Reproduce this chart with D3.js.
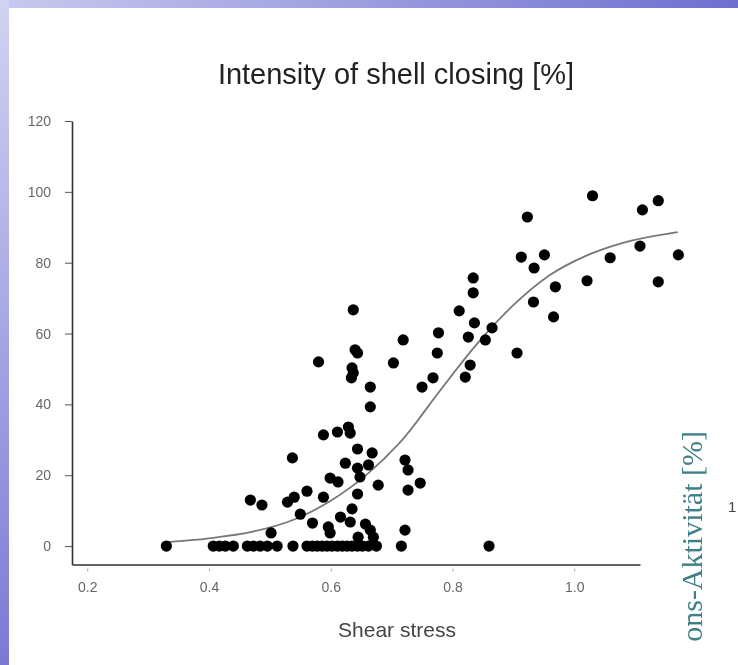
<!DOCTYPE html>
<html>
<head>
<meta charset="utf-8">
<script src="https://cdn.jsdelivr.net/npm/d3@7"></script>
<style>
  html, body { margin: 0; padding: 0; background: #fff; }
  svg { display: block; }
</style>
</head>
<body>
<div id="chart"></div>
<script>
// Shear stress vs. intensity of shell closing, with fitted sigmoid

var shearStress = [
  0.330, 0.407, 0.417, 0.427, 0.440, 0.463, 0.473, 0.484, 0.496, 0.512,
  0.538, 0.561, 0.570, 0.578, 0.586, 0.594, 0.602, 0.611, 0.619, 0.627,
  0.635, 0.644, 0.652, 0.662, 0.675, 0.716, 0.860,
  0.537, 0.468, 0.487, 0.529, 0.540, 0.561, 0.550, 0.570, 0.502,
  0.644, 0.668, 0.662, 0.624, 0.644, 0.599, 0.612, 0.648, 0.678, 0.588,
  0.644, 0.635, 0.722, 0.727, 0.727, 0.747, 0.616, 0.632, 0.657, 0.665,
  0.596, 0.599, 0.722, 0.645, 0.670,
  0.637, 0.811, 0.777, 0.719, 0.640, 0.644, 0.775, 0.580, 0.703, 0.635,
  0.637, 0.634, 0.768, 0.750, 0.665, 0.665, 0.629, 0.632, 0.611, 0.588,
  0.923, 0.913, 0.951, 0.934, 0.969, 0.933, 0.966, 0.834, 0.834, 0.836,
  0.865, 0.826, 0.854, 0.906, 0.829, 0.821,
  1.030, 1.138, 1.112, 1.108, 1.171, 1.059, 1.021, 1.138
];

var intensity = [
  0, 0, 0, 0, 0, 0, 0, 0, 0, 0,
  0, 0, 0, 0, 0, 0, 0, 0, 0, 0,
  0, 0, 0, 0, 0, 0, 0,
  24.9, 13.0, 11.6, 12.4, 13.8, 15.5, 9.0, 6.5, 3.7,
  27.4, 26.3, 22.9, 23.4, 22.0, 19.2, 18.1, 19.5, 17.2, 13.8,
  14.7, 10.5, 24.3, 21.5, 15.8, 17.8, 8.2, 6.8, 6.2, 4.5,
  5.4, 3.7, 4.5, 2.5, 2.5,
  66.7, 66.4, 60.2, 58.2, 55.4, 54.5, 54.5, 52.0, 51.7, 50.3,
  48.9, 47.5, 47.5, 44.9, 44.9, 39.3, 33.6, 31.9, 32.2, 31.4,
  92.9, 81.6, 82.2, 78.5, 73.2, 68.9, 64.7, 75.7, 71.5, 63.0,
  61.6, 59.0, 58.2, 54.5, 51.1, 47.7,
  98.9, 97.5, 94.9, 84.7, 82.2, 81.4, 74.9, 74.6
];

// fitted curve
var fitX = [0.33, 0.40, 0.47, 0.54, 0.60, 0.66, 0.72, 0.78, 0.84, 0.90, 0.96, 1.02, 1.08, 1.17];
var fitY = [1.1, 2.2, 4.0, 7.5, 12.8, 20.3, 30.5, 44.0, 57.0, 68.0, 76.5, 82.0, 85.6, 88.6];

var xTicks = [0.2, 0.4, 0.6, 0.8, 1.0];
var yTicks = [0, 20, 40, 60, 80, 100, 120];

var width = 738, height = 665;
var sans = 'Liberation Sans, Arial, sans-serif';

var svg = d3.select('#chart').append('svg')
    .attr('width', width)
    .attr('height', height);

// slide frame: blue strips on top and left
var defs = svg.append('defs');
var gTop = defs.append('linearGradient').attr('id', 'topband');
gTop.append('stop').attr('offset', '0%').attr('stop-color', '#c9c9ee');
gTop.append('stop').attr('offset', '100%').attr('stop-color', '#6f6fd0');
var gLeft = defs.append('linearGradient').attr('id', 'leftband')
    .attr('x1', 0).attr('y1', 0).attr('x2', 0).attr('y2', 1);
gLeft.append('stop').attr('offset', '0%').attr('stop-color', '#d2d2f2');
gLeft.append('stop').attr('offset', '100%').attr('stop-color', '#7a7ad6');
var soft = defs.append('filter').attr('id', 'soft');
soft.append('feGaussianBlur').attr('stdDeviation', 0.45);

svg.append('rect').attr('width', width).attr('height', height).attr('fill', '#fff');
svg.append('rect').attr('x', 0).attr('y', 0).attr('width', width).attr('height', 8)
    .attr('fill', 'url(#topband)');
svg.append('rect').attr('x', 0).attr('y', 0).attr('width', 9).attr('height', height)
    .attr('fill', 'url(#leftband)');

var x = d3.scaleLinear().domain([0.175, 1.108]).range([72, 640]);
var y = d3.scaleLinear().domain([-5.2, 120]).range([564.5, 121]);

var canvas = svg.append('g').attr('filter', 'url(#soft)');

// title
canvas.append('text')
    .attr('x', 396)
    .attr('y', 84)
    .attr('text-anchor', 'middle')
    .style('font-family', sans)
    .style('font-size', '29px')
    .style('fill', '#222')
    .text('Intensity of shell closing [%]');

// axes
var yAxis = d3.axisLeft(y).tickValues(yTicks).tickSize(7).tickSizeOuter(0).tickPadding(14);
var gy = canvas.append('g')
    .attr('transform', 'translate(72,0)')
    .call(yAxis);

var xAxis = d3.axisBottom(x).tickValues(xTicks).tickSize(4).tickSizeOuter(0).tickPadding(14)
    .tickFormat(d3.format('.1f'));
var gx = canvas.append('g')
    .attr('transform', 'translate(0,' + y(-5.2) + ')')
    .call(xAxis);

[gx, gy].forEach(function(g) {
    g.select('.domain').attr('stroke', '#333').attr('stroke-width', 1.6);
    g.selectAll('.tick line').attr('stroke', '#555').attr('stroke-width', 1);
    g.selectAll('.tick text')
        .style('font-family', sans)
        .style('font-size', '14px')
        .style('fill', '#666');
});
gx.selectAll('.tick line').attr('stroke', '#aaa').attr('y1', 4).attr('y2', 7);

canvas.append('text')
    .attr('x', 397)
    .attr('y', 637)
    .attr('text-anchor', 'middle')
    .style('font-family', sans)
    .style('font-size', '21px')
    .style('fill', '#444')
    .text('Shear stress');

// fitted curve
var fit = fitX.map(function(d, i) { return [d, fitY[i]]; });
canvas.append('path')
    .datum(fit)
    .attr('fill', 'none')
    .attr('stroke', '#777')
    .attr('stroke-width', 1.8)
    .attr('d', d3.line()
        .x(function(d) { return x(d[0]); })
        .y(function(d) { return y(d[1]); })
        .curve(d3.curveMonotoneX));

// data points
var points = shearStress.map(function(d, i) { return {s: d, v: intensity[i]}; });
canvas.selectAll('circle.dot')
    .data(points)
    .enter().append('circle')
    .attr('class', 'dot')
    .attr('cx', function(d) { return x(d.s); })
    .attr('cy', function(d) { return y(d.v); })
    .attr('r', 5.6)
    .attr('fill', '#000');

// neighbouring chart's axis title, only its visible part
svg.append('text')
    .attr('transform', 'translate(702,431) rotate(-90)')
    .attr('text-anchor', 'end')
    .attr('filter', 'url(#soft)')
    .style('font-family', 'Liberation Serif, Times New Roman, serif')
    .style('font-size', '30px')
    .style('fill', '#3f7f86')
    .text('ons-Aktivität [%]');
svg.append('text')
    .attr('x', 728)
    .attr('y', 512)
    .style('font-family', sans)
    .style('font-size', '15px')
    .style('fill', '#444')
    .text('1');
</script>
</body>
</html>
